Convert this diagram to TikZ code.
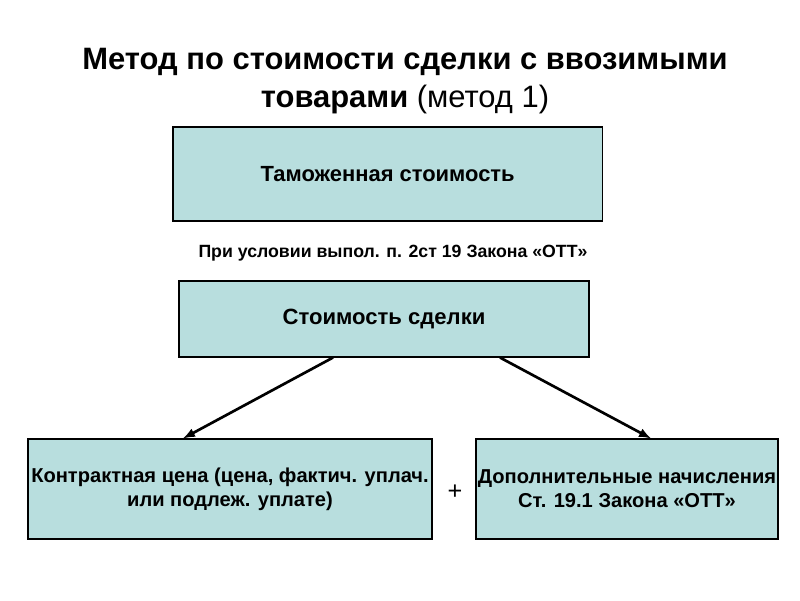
\documentclass[tikz,border=0pt]{standalone}
\usepackage{fontspec}
\setmainfont{Liberation Sans}
\usetikzlibrary{arrows}
\definecolor{boxfill}{RGB}{184,222,222}

\begin{document}
\begin{tikzpicture}
	[
	> = latex,
	box/.style = {draw, thick, fill=boxfill, inner sep=0pt, align=center},
	link/.style = {->, line width=1.9pt}
	]
	\useasboundingbox (0,0) rectangle (20,15);

	\node[align=center, font=\fontsize{22}{27}\selectfont] (title) at (10.125,12.98)
		{\textbf{Метод по стоимости сделки с ввозимыми}\\\textbf{товарами} (метод 1)};

	\node[box, minimum width=10.73cm, minimum height=2.35cm, font=\bfseries\fontsize{15.6}{18}\selectfont] (tam) at (9.69,10.65) {Таможенная стоимость};
	\node[font=\bfseries\fontsize{12.6}{14}\selectfont] (cond) at (9.825,8.675) {При условии выпол. п. 2ст 19 Закона «ОТТ»};
	\node[box, minimum width=10.25cm, minimum height=1.9cm, font=\bfseries\fontsize{15.7}{18}\selectfont] (sdel) at (9.6,7.025) {Стоимость сделки};

	\node[box, minimum width=10.1cm, minimum height=2.5cm, font=\bfseries\fontsize{14.3}{17}\selectfont] (kontr) at (5.75,2.775)
		{Контрактная цена (цена, фактич. уплач.\\или подлеж. уплате)};
	\node[box, minimum width=7.55cm, minimum height=2.5cm, font=\bfseries\fontsize{14.3}{17}\selectfont] (dop) at (15.675,2.775)
		{Дополнительные начисления\\Ст. 19.1 Закона «ОТТ»};
	\node[font=\fontsize{18}{20}\selectfont] (plus) at (11.375,2.7) {+};

	\draw[link] ([xshift=-1.275cm]sdel.south) -- ([xshift=-1.175cm]kontr.north);
	\draw[link] ([xshift=2.9cm]sdel.south) -- ([xshift=0.6cm]dop.north);
\end{tikzpicture}
\end{document}
